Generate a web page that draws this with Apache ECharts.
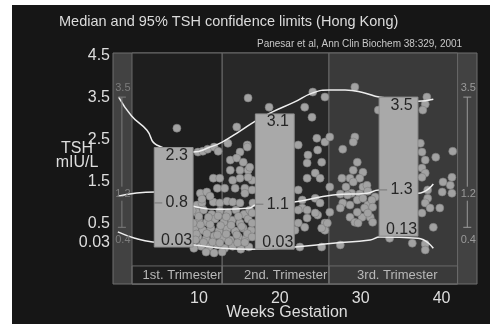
<!DOCTYPE html>
<html>
<head>
<meta charset="utf-8">
<title>TSH confidence limits</title>
<script src="https://cdn.jsdelivr.net/npm/echarts@6/dist/echarts.min.js"></script>
<style>
  html, body { margin: 0; padding: 0; background: #fff; }
  #chart { width: 490px; height: 324px; }
</style>
</head>
<body>
<div id="chart"></div>
<script>
// values: [weeks gestation, TSH mIU/L]
var upperCurve = [[0.7, 3.5], [2.3, 3.05], [4.2, 2.71], [5.4, 2.36], [9.9, 2.19], [12.0, 2.31], [13.5, 2.43],
  [15.7, 2.69], [17.6, 2.93], [19.4, 3.12], [22.4, 3.38], [24.7, 3.6], [26.8, 3.67], [28.7, 3.67],
  [31.1, 3.6], [32.9, 3.5], [37.7, 3.4], [39.6, 3.45]]
var medianCurve = [[0.6, 1.14], [2.7, 1.21], [5.2, 1.24], [9.9, 0.9], [13.5, 0.83], [16.9, 0.86], [17.6, 0.93],
  [22.4, 1.0], [27.2, 1.17], [31.4, 1.21], [32.9, 1.29], [37.7, 1.21], [39.6, 1.43]]
var lowerCurve = [[0.6, 0.29], [2.7, 0.14], [4.9, 0.05], [10.1, -0.02], [13.6, -0.1], [16.9, -0.12],
  [22.5, -0.07], [27.2, 0.02], [31.8, 0.1], [33.0, 0.17], [37.7, 0.14], [39.6, -0.1]]

var boxWeeks = [7.5, 20.0, 35.3]
var boxTop = [2.3, 3.1, 3.5]
var boxMid = [0.98, 0.95, 1.29]
var boxBottom = [-0.07, -0.12, 0.19]
var boxTopText = ['2.3', '3.1', '3.5']
var boxMidText = ['0.8', '1.1', '1.3']
var boxBottomText = ['0.03', '0.03', '0.13']

var refWeeks = [1.1, 43.8]
var refLimits = [0.4, 1.2, 3.5]

var trimesterNames = ['1st. Trimester', '2nd. Trimester', '3rd. Trimester']
var trimesterEdges = [2.35, 13.5, 26.7, 42.6]
var trimesterShades = ['#1e1e1e', '#282828', '#3a3a3a']

var yTicks = [0.03, 0.5, 1.5, 2.5, 3.5, 4.5]
var xTicks = [10, 20, 30, 40]

var points = [
  [7.9, 2.76], [15.3, 2.79], [16.7, 3.48], [19.3, 3.26], [24.7, 3.62], [26.2, 3.5], [29.9, 3.74], [23.7, 3.26],
  [24.6, 3.02], [32.8, 3.19], [38.8, 3.5], [38.6, 3.33], [38.3, 3.19],
  [10.5, 2.19], [11.1, 2.21], [11.7, 2.26], [12.5, 2.31], [13.0, 2.21], [14.2, 2.4], [15.7, 2.19], [16.6, 2.36],
  [14.5, 2.0], [15.3, 2.05], [16.1, 1.95], [14.5, 1.76], [15.7, 1.76], [16.7, 1.76], [12.4, 1.57], [13.2, 1.57],
  [14.8, 1.52], [15.7, 1.57], [10.8, 1.21], [11.6, 1.24], [12.9, 1.33], [13.8, 1.33], [15.1, 1.33], [16.3, 1.33],
  [10.4, 0.93], [11.0, 0.98], [12.4, 1.0], [13.2, 0.98], [14.1, 1.02], [14.8, 1.0], [16.3, 1.21],
  [10.3, 0.76], [11.2, 0.81], [12.2, 0.71], [13.2, 0.79], [14.2, 0.74], [15.2, 0.81], [16.2, 0.71], [16.9, 0.81],
  [10.6, 0.57], [11.6, 0.52], [12.6, 0.6], [13.7, 0.52], [14.7, 0.57], [15.7, 0.5], [16.7, 0.6],
  [10.1, 0.36], [11.1, 0.33], [12.1, 0.38], [13.1, 0.31], [14.1, 0.36], [15.1, 0.31], [16.1, 0.38], [17.1, 0.33],
  [10.5, 0.17], [11.5, 0.12], [12.5, 0.19], [13.5, 0.14], [14.5, 0.1], [15.5, 0.17], [16.4, 0.12],
  [10.9, -0.05], [11.9, -0.07], [12.9, -0.02], [13.8, -0.1], [14.8, -0.05], [15.8, -0.12], [16.8, -0.07],
  [11.5, -0.19], [12.5, -0.21], [13.5, -0.19], [11.0, 1.07], [12.0, 1.14], [15.7, 0.98],
  [10.8, 0.46], [12.0, 0.47], [13.3, 0.44], [14.6, 0.45], [15.9, 0.42], [10.3, 0.24], [11.6, 0.25], [12.9, 0.22],
  [14.0, 0.24], [15.3, 0.22], [16.6, 0.25], [11.2, 0.04], [12.3, 0.05], [13.2, 0.03], [14.3, 0.06], [15.4, 0.03],
  [16.3, 0.04], [10.6, 0.66], [11.8, 0.64], [13.0, 0.67], [14.0, 0.65], [15.5, 0.66], [10.2, 0.1], [10.0, -0.1],
  [9.9, 0.5], [9.8, 0.8],
  [17.2, 1.52], [17.2, 1.29], [17.3, 0.98], [17.2, 0.74], [17.2, 0.5], [17.2, 0.17], [16.9, 1.83], [16.7, 1.59],
  [16.6, 2.31],
  [25.2, 2.52], [26.2, 2.43], [26.8, 2.55], [22.9, 2.36], [24.1, 2.12], [25.3, 2.24], [24.0, 1.93], [25.8, 1.95],
  [25.0, 1.69], [25.6, 1.57], [24.0, 1.57], [26.8, 1.36], [22.9, 1.29], [23.4, 1.05], [25.0, 1.09], [25.6, 0.98],
  [23.4, 0.86], [24.0, 0.81], [25.3, 0.69], [26.8, 0.76], [22.9, 0.5], [23.7, 0.4], [26.2, 0.5], [26.2, 0.33],
  [22.5, 0.33], [25.8, 0.38], [28.1, -0.02], [25.8, -0.07], [23.1, -0.07], [22.9, 0.81], [25.0, 0.74],
  [24.0, 0.62], [26.5, 0.5],
  [29.9, 2.55], [29.7, 2.43], [28.4, 2.26], [30.2, 1.95], [29.7, 1.76], [30.9, 1.71], [30.5, 1.57], [29.3, 1.57],
  [28.3, 1.57], [28.8, 1.36], [30.9, 1.36], [31.4, 1.4], [31.5, 1.26], [28.1, 1.19], [29.7, 1.48], [29.5, 1.21],
  [30.5, 1.19], [32.4, 1.12], [28.4, 0.98], [29.3, 0.93], [30.2, 1.05], [30.9, 1.09], [31.5, 0.93], [31.1, 0.86],
  [28.1, 0.86], [29.3, 0.64], [30.8, 0.64], [30.2, 0.76], [31.8, 0.64], [29.9, 0.52], [29.0, 1.17], [32.0, 1.05],
  [32.1, 0.88], [31.5, 0.74], [32.1, 0.52], [30.3, 0.5],
  [38.0, 2.4], [38.2, 2.19], [38.6, 2.0], [39.9, 2.07], [42.0, 2.21], [38.2, 1.81], [38.6, 1.69], [38.2, 1.59],
  [40.8, 1.48], [41.9, 1.59], [41.7, 1.4], [38.9, 1.29], [38.9, 1.09], [38.6, 0.98], [39.2, 0.86], [40.4, 0.86],
  [40.7, 1.24], [41.9, 1.21], [39.6, 0.4], [37.0, 0.02], [38.6, 0.0], [38.6, -0.14], [34.2, 0.14], [38.2, 0.74]
]

var yMin = -0.95
var yMax = 4.55
var bandTop = -0.52
var boxHalf = 2.4
var font = 'Liberation Sans'

var chart = echarts.init(document.getElementById('chart'))

var panelAreas = []
var bandAreas = []
for (var i = 0; i < trimesterNames.length; i++) {
  panelAreas.push([
    { coord: [trimesterEdges[i], yMin], itemStyle: { color: trimesterShades[i], borderColor: '#6a6a6a', borderWidth: 1 } },
    { coord: [trimesterEdges[i + 1], yMax] }
  ])
  bandAreas.push([
    {
      coord: [trimesterEdges[i], yMin],
      itemStyle: { color: 'rgba(0,0,0,0)', borderColor: '#6a6a6a', borderWidth: 1 },
      label: { show: true, position: 'inside', offset: [[5, 0], [10, 0], [4, 0]][i], formatter: trimesterNames[i], color: '#b8b8b8', fontSize: 13, fontFamily: font }
    },
    { coord: [trimesterEdges[i + 1], bandTop] }
  ])
}

function renderBox (params, api) {
  var idx = api.value(4)
  var p1 = api.coord([api.value(0) - boxHalf, api.value(2)])
  var p2 = api.coord([api.value(0) + boxHalf, api.value(1)])
  var pm = api.coord([api.value(0), api.value(3)])
  var cx = (p1[0] + p2[0]) / 2 + 3
  var txt = function (s, y) {
    return { type: 'text', style: { text: s, x: cx, y: y, fill: '#262626', font: '16px "' + font + '"', align: 'center', verticalAlign: 'middle' } }
  }
  return {
    type: 'group',
    children: [
      { type: 'rect', shape: { x: p1[0], y: p1[1], width: p2[0] - p1[0], height: p2[1] - p1[1] }, style: { fill: '#a9a9a9', stroke: '#8e8e8e', lineWidth: 1 } },
      { type: 'line', shape: { x1: p1[0], y1: pm[1], x2: p1[0] + 8, y2: pm[1] }, style: { stroke: '#777', lineWidth: 1 } },
      txt(boxTopText[idx], p1[1] + 8),
      txt(boxMidText[idx], pm[1]),
      txt(boxBottomText[idx], p2[1] - 6.5)
    ]
  }
}

function renderRef (params, api) {
  var lo = api.coord([api.value(0), api.value(1)])
  var mid = api.coord([api.value(0), api.value(2)])
  var hi = api.coord([api.value(0), api.value(3)])
  var col = params.dataIndex === 0 ? '#7c7c7c' : '#9a9a9a'
  var ts = function (s, y) {
    return { type: 'text', style: { text: s, x: lo[0] + 1, y: y, fill: col, font: '11px "' + font + '"', align: 'center', verticalAlign: 'middle' } }
  }
  return {
    type: 'group',
    children: [
      { type: 'line', shape: { x1: hi[0], y1: hi[1], x2: hi[0], y2: mid[1] - 7 }, style: { stroke: col, lineWidth: 1 } },
      { type: 'line', shape: { x1: hi[0], y1: mid[1] + 7, x2: lo[0], y2: lo[1] }, style: { stroke: col, lineWidth: 1 } },
      { type: 'line', shape: { x1: hi[0] - 4, y1: hi[1], x2: hi[0] + 4, y2: hi[1] }, style: { stroke: col, lineWidth: 1 } },
      { type: 'line', shape: { x1: lo[0] - 4, y1: lo[1], x2: lo[0] + 4, y2: lo[1] }, style: { stroke: col, lineWidth: 1 } },
      ts(String(api.value(3)), hi[1] - 9),
      ts(String(api.value(2)), mid[1]),
      ts(String(api.value(1)), lo[1] + 13)
    ]
  }
}

var curveStyle = { color: '#eeeeee', width: 1.5 }

var option = {
  animation: false,
  backgroundColor: '#ffffff',
  graphic: [
    { type: 'rect', z: -10, shape: { x: 12, y: 5, width: 478, height: 319 }, style: { fill: '#161616' } },
    { type: 'text', x: 77, y: 156, style: { text: 'TSH\nmIU/L', fill: '#dddddd', font: '16px "' + font + '"', align: 'center', verticalAlign: 'middle', lineHeight: 14 } },
    { type: 'text', x: 287, y: 313, style: { text: 'Weeks Gestation', fill: '#dddddd', font: '16px "' + font + '"', align: 'center', verticalAlign: 'middle' } }
  ],
  title: [
    { text: 'Median and 95% TSH confidence limits (Hong Kong)', left: 59, top: 14, padding: 0, textStyle: { color: '#dcdcdc', fontSize: 14.5, fontWeight: 'normal', fontFamily: font } },
    { text: 'Panesar et al, Ann Clin Biochem 38:329, 2001', left: 257, top: 39, padding: 0, textStyle: { color: '#c8c8c8', fontSize: 10, fontWeight: 'normal', fontFamily: font } }
  ],
  grid: {
    left: 113, top: 53, right: 13, bottom: 40,
    show: true, backgroundColor: '#424242', borderColor: '#6e6e6e', borderWidth: 1
  },
  xAxis: {
    type: 'value', min: 0, max: 45,
    axisLine: { show: false },
    splitLine: { show: false },
    axisTick: { show: true, customValues: xTicks, length: 4, lineStyle: { color: '#aaaaaa' } },
    axisLabel: { customValues: xTicks, color: '#dddddd', fontSize: 16, fontFamily: font, margin: 7, padding: [0, 0, 0, 10] }
  },
  yAxis: {
    type: 'value', min: yMin, max: yMax,
    axisLine: { show: false },
    splitLine: { show: false },
    axisTick: { show: false },
    axisLabel: { customValues: yTicks, color: '#dddddd', fontSize: 16, fontFamily: font, margin: 3 }
  },
  series: [
    {
      type: 'line', data: [], z: 1, silent: true,
      markArea: { silent: true, data: panelAreas.concat(bandAreas) }
    },
    {
      type: 'scatter', data: points, z: 3, symbolSize: 8,
      itemStyle: { color: '#a2a2a2', borderColor: '#7a7a7a', borderWidth: 0.6, opacity: 1 }
    },
    { type: 'line', data: upperCurve, z: 4, smooth: 0.5, showSymbol: false, lineStyle: curveStyle },
    { type: 'line', data: medianCurve, z: 4, smooth: 0.5, showSymbol: false, lineStyle: curveStyle },
    { type: 'line', data: lowerCurve, z: 4, smooth: 0.5, showSymbol: false, lineStyle: curveStyle },
    {
      type: 'custom', z: 5, renderItem: renderBox,
      data: boxWeeks.map(function (w, k) { return [w, boxBottom[k], boxTop[k], boxMid[k], k] })
    },
    {
      type: 'custom', z: 5, renderItem: renderRef,
      data: refWeeks.map(function (w) { return [w, refLimits[0], refLimits[1], refLimits[2]] })
    }
  ]
}

chart.setOption(option)
</script>
</body>
</html>
